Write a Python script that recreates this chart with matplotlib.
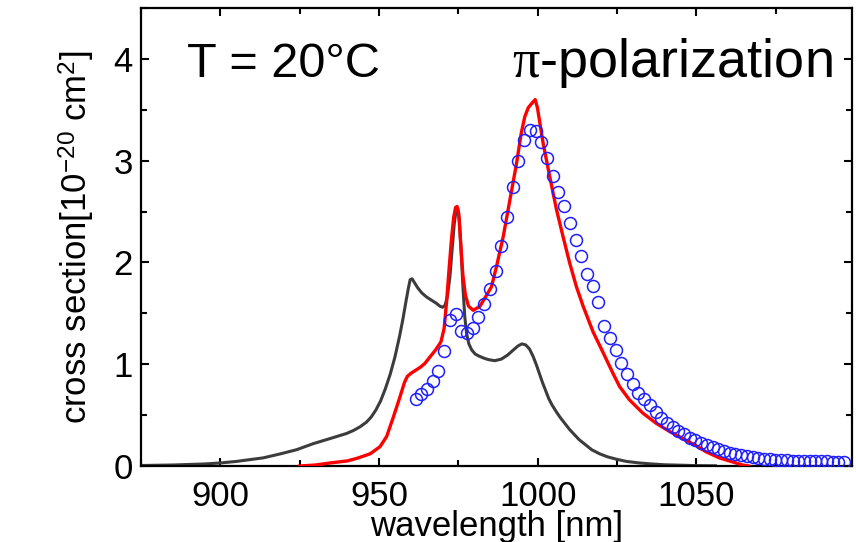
import numpy as np
import matplotlib
matplotlib.use("Agg")
import matplotlib.pyplot as plt
from matplotlib.ticker import MultipleLocator

plt.rcParams['font.family'] = ['Liberation Sans', 'DejaVu Sans']
plt.rcParams['mathtext.fontset'] = 'custom'
plt.rcParams['mathtext.rm'] = 'Liberation Sans'
plt.rcParams['mathtext.it'] = 'Liberation Serif'
plt.rcParams['mathtext.bf'] = 'Liberation Sans:bold'

# ---- data ----
black_wl = [875, 885, 895, 900, 905, 913.5, 919, 924, 929.3, 934.6, 939.8, 942, 944, 946,
            947.5, 949, 950.5, 952, 953.5, 955, 956.5, 957.5, 958.5, 959.2, 959.8, 960.4,
            961.2, 962.2, 963.5, 965, 966.5, 968, 969.2, 970.0, 970.8,
            971.5, 972.3, 973.0, 973.7, 974.3, 974.8, 975.3, 975.8, 976.4, 977.0, 977.6,
            978.3, 979.2, 980.3, 981.5, 983, 984.5, 986.5, 988.5, 990.5, 992.3, 993.8,
            995, 996.2, 997.4, 998.5, 999.5, 1000.5, 1001.5, 1002.5, 1003.5, 1004.5,
            1005.7, 1007, 1008.5, 1010, 1011.5, 1013, 1015, 1017, 1019.5, 1022, 1025,
            1028, 1032, 1036, 1040, 1045, 1050, 1056]
black_cs = [0.005, 0.01, 0.02, 0.03, 0.045, 0.08, 0.12, 0.16, 0.22, 0.27, 0.32, 0.35, 0.385,
            0.43, 0.48, 0.55, 0.64, 0.76, 0.90, 1.07, 1.28, 1.44, 1.62, 1.74, 1.83, 1.84,
            1.80, 1.75, 1.70, 1.66, 1.63, 1.60, 1.57, 1.56, 1.58,
            1.66, 1.85, 2.12, 2.38, 2.52, 2.53, 2.42, 2.15, 1.78, 1.47, 1.30,
            1.20, 1.14, 1.10, 1.08, 1.06, 1.045, 1.035, 1.05, 1.09, 1.14, 1.18,
            1.20, 1.19, 1.15, 1.08, 1.00, 0.91, 0.82, 0.74, 0.66, 0.60,
            0.54, 0.48, 0.42, 0.36, 0.31, 0.26, 0.21, 0.16, 0.12, 0.09, 0.065,
            0.045, 0.03, 0.02, 0.012, 0.008, 0.004, 0.002]

red_wl = [925, 930, 934.6, 940, 943, 947.2, 950.3, 952.4, 954.5, 956.6, 958.0, 958.9,
          960, 961.5, 963, 964.5, 966, 967.8, 969.5, 970.5, 971.3, 972.1, 972.8, 973.5,
          974.1, 974.6, 975.1, 975.7, 976.4, 977.2, 978.2, 979.7, 981.8, 983.9, 985.4,
          987, 989.1, 991.2, 993.3, 994.8, 995.9, 997.0, 998.3, 999.2, 999.9, 1001.7,
          1003.8, 1005.9, 1008, 1010.1, 1012.2, 1014.3, 1017.4, 1020.5, 1023.7, 1025.8,
          1028.9, 1033.1, 1037.3, 1041.5, 1045.7, 1049.9, 1053, 1057.2, 1061.4, 1064.5,
          1066.5]
red_cs = [0.0, 0.01, 0.03, 0.05, 0.075, 0.12, 0.19, 0.29, 0.48, 0.68, 0.82, 0.88,
          0.91, 0.94, 0.97, 1.01, 1.07, 1.14, 1.22, 1.35, 1.62, 1.95, 2.22, 2.44,
          2.54, 2.55, 2.48, 2.20, 1.88, 1.68, 1.57, 1.53, 1.57, 1.68, 1.76,
          1.96, 2.25, 2.61, 2.97, 3.27, 3.43, 3.52, 3.57, 3.60, 3.52, 3.17,
          2.84, 2.52, 2.25, 1.99, 1.76, 1.57, 1.32, 1.12, 0.91, 0.78,
          0.65, 0.52, 0.42, 0.34, 0.27, 0.20, 0.14, 0.08, 0.04, 0.01,
          0.0]

circ_wl = [961.5, 963.3, 965.1, 966.9, 968.7, 970.5, 972.3, 974.1, 975.9, 977.7, 979.5,
           981.3, 983.1, 984.9, 986.7, 988.5, 990.3, 992.1, 993.9, 995.7, 997.5, 999.3,
           1001.1, 1002.9, 1004.7, 1006.5, 1008.3, 1010.1, 1011.9, 1013.7, 1015.5,
           1017.3, 1019.1, 1020.9, 1022.7, 1024.5, 1026.3, 1028.1, 1029.9, 1031.7,
           1033.5, 1035.3, 1037.1, 1038.9, 1040.7, 1042.5, 1044.3, 1046.1, 1047.9,
           1049.7, 1051.5, 1053.3, 1055.1, 1056.9, 1058.7, 1060.5, 1062.3, 1064.1,
           1065.9, 1067.7, 1069.5, 1071.3, 1073.1, 1074.9, 1076.7, 1078.5, 1080.3,
           1082.1, 1083.9, 1085.7, 1087.5, 1089.3, 1091.1, 1092.9, 1094.7, 1096.5]
circ_cs = [0.66, 0.71, 0.76, 0.84, 0.93, 1.13, 1.43, 1.49, 1.33, 1.31, 1.36,
           1.46, 1.59, 1.74, 1.92, 2.16, 2.45, 2.74, 3.00, 3.20, 3.30, 3.29,
           3.18, 3.03, 2.85, 2.69, 2.55, 2.39, 2.22, 2.06, 1.89,
           1.77, 1.61, 1.38, 1.26, 1.14, 1.01, 0.90, 0.81, 0.72,
           0.66, 0.60, 0.53, 0.47, 0.42, 0.38, 0.34, 0.31, 0.28,
           0.26, 0.23, 0.21, 0.19, 0.17, 0.15, 0.13, 0.12, 0.11,
           0.10, 0.09, 0.08, 0.07, 0.065, 0.06, 0.06, 0.055, 0.05,
           0.05, 0.05, 0.05, 0.045, 0.045, 0.045, 0.04, 0.04, 0.04]

x_ticks = [900, 950, 1000, 1050]
y_ticks = [0, 1, 2, 3, 4]

fig = plt.figure(figsize=(8.56, 5.42), dpi=100)
ax = fig.add_axes([0.1647, 0.1402, 0.8306, 0.845])

ax.plot(black_wl, black_cs, color='#3c3c3c', lw=2.2, zorder=2, solid_joinstyle='round')
ax.plot(red_wl, red_cs, color='#ff0000', lw=2.4, zorder=3, solid_joinstyle='round')
ax.plot(circ_wl, circ_cs, linestyle='none', marker='o', markersize=8.6,
        markerfacecolor='none', markeredgecolor='#1f1fff', markeredgewidth=1.1, zorder=4)

ax.set_xlim(875, 1099)
ax.set_ylim(0, 4.5)
ax.set_xticks(x_ticks)
ax.set_yticks(y_ticks)
ax.xaxis.set_minor_locator(MultipleLocator(25))
ax.yaxis.set_minor_locator(MultipleLocator(0.5))
ax.tick_params(which='both', direction='in', top=True, right=True, width=1.5,
               labelsize=25)
ax.tick_params(which='major', length=6)
ax.tick_params(which='minor', length=4)
ax.tick_params(axis='x', pad=10)
ax.tick_params(axis='y', pad=6)
for s in ax.spines.values():
    s.set_linewidth(1.6)

ax.set_xlabel('wavelength [nm]', fontsize=25, labelpad=-2)
ax.set_ylabel(r'cross section[10$^{-20}$ cm$^{2}$]', fontsize=25, labelpad=12)

ax.text(0.065, 0.849, 'T = 20°C', transform=ax.transAxes, fontsize=35,
        ha='left', va='baseline')
ax.text(0.973, 0.849, r'$\pi$-polarization', transform=ax.transAxes, fontsize=39,
        ha='right', va='baseline')

fig.savefig('out.png', dpi=100)
